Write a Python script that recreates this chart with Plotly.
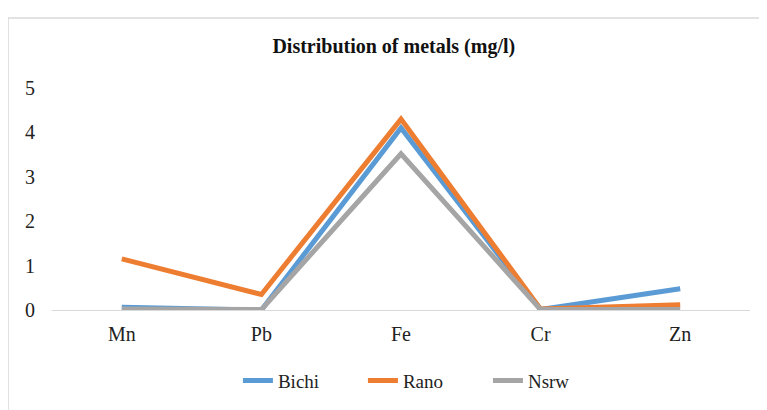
import plotly.graph_objects as go

categories = ["Mn", "Pb", "Fe", "Cr", "Zn"]
bichi = [0.06, 0.0, 4.1, 0.01, 0.48]
rano = [1.15, 0.35, 4.3, 0.02, 0.12]
nsrw = [0.02, 0.01, 3.52, 0.01, 0.01]
y_ticks = [0, 1, 2, 3, 4, 5]

SERIF = "'Liberation Serif', 'Times New Roman', Times, serif"

fig = go.Figure()
for name, vals, color in [("Bichi", bichi, "#5B9BD5"), ("Rano", rano, "#ED7D31"), ("Nsrw", nsrw, "#A5A5A5")]:
    fig.add_trace(go.Scatter(x=categories, y=vals, name=name, mode="lines",
                             line=dict(color=color, width=5)))

fig.update_layout(
    width=767, height=410,
    margin=dict(l=44, r=25, t=80, b=108),
    paper_bgcolor="white", plot_bgcolor="white",
    font=dict(family=SERIF, size=20, color="#222"),
    title=dict(text="<b>Distribution of metals (mg/l)</b>", x=0.503, xanchor="center",
               y=1 - 38 / 410, yanchor="middle", font=dict(family=SERIF, size=20, color="#111")),
    showlegend=True,
    legend=dict(orientation="h", x=0.535, xanchor="center", y=-0.318, yanchor="middle",
                font=dict(family=SERIF, size=19), entrywidth=80, entrywidthmode="pixels",
                traceorder="normal"),
    xaxis=dict(showgrid=False, showline=True, linecolor="#d9d9d9", linewidth=1,
               ticks="", ticklabelstandoff=6, range=[-0.5, 4.5],
               tickfont=dict(family=SERIF, size=20)),
    yaxis=dict(range=[0, 5], tickvals=y_ticks, showgrid=False, zeroline=False,
               showline=False, ticks="", ticklabelstandoff=16,
               tickfont=dict(family=SERIF, size=20)),
)
fig.add_shape(type="rect", xref="paper", yref="paper", x0=-0.063, x1=1.05, y0=-0.5, y1=1.315,
              line=dict(color="#d9d9d9", width=1.5), fillcolor="rgba(0,0,0,0)", layer="below")
fig.write_html("out.html")
